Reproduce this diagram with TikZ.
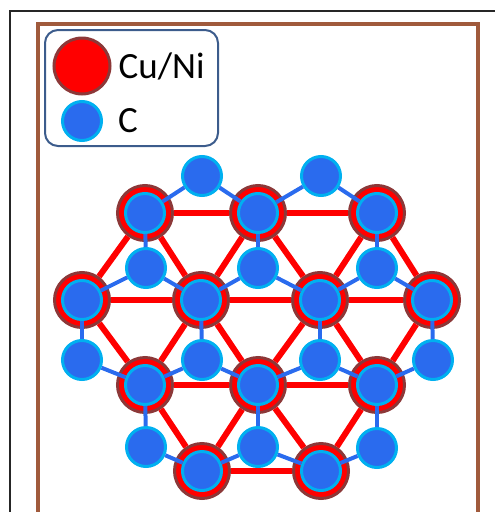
\documentclass[tikz,border=0pt]{standalone}
\usepackage{fontspec}
\setmainfont{Carlito}
\usetikzlibrary{positioning}

\definecolor{cuRed}{RGB}{255,0,0}
\definecolor{cuRim}{RGB}{140,56,56}
\definecolor{cBlue}{RGB}{42,107,238}
\definecolor{cRim}{RGB}{0,176,240}
\definecolor{frameBrown}{RGB}{160,90,60}
\definecolor{keyFrame}{RGB}{60,92,140}

\tikzstyle{metal} = [circle, fill=cuRed, draw=cuRim, line width=3pt, minimum size=55pt, inner sep=0pt]
\tikzstyle{carbon} = [circle, fill=cBlue, draw=cRim, line width=3pt, minimum size=39pt, inner sep=0pt]
\tikzstyle{metalbond} = [line width=6pt, cuRed]
\tikzstyle{carbonbond} = [line width=4pt, cBlue]
\tikzstyle{keytext} = [inner sep=0pt, font=\fontsize{37}{40}\selectfont]

\begin{document}
\begin{tikzpicture}[x=1pt, y=-1pt]
\useasboundingbox (0,0) rectangle (495,512);

% outer frames
\draw [line width=2pt, black!85] (495,11) -- (10,11) -- (10,512);
\draw [line width=4pt, frameBrown] (38,512) -- (38,24) -- (478,24) -- (478,512);

% key
\draw [line width=2pt, keyFrame, rounded corners=13pt] (45,30) rectangle (218,146);
\node (cuKey) [metal, minimum size=56pt] at (82,66) {};
\node (cKey) [carbon] at (82,121) {};
\node (cuText) [keytext, right=7pt of cuKey] {Cu/Ni};
\node (cText) [keytext, right=15pt of cKey] {C};

% Cu/Ni lattice
\node (cuA1) [metal] at (145,213) {};
\node (cuA2) [metal] at (258,213) {};
\node (cuA3) [metal] at (377,213) {};
\node (cuB1) [metal] at (82,300) {};
\node (cuB2) [metal] at (201,300) {};
\node (cuB3) [metal] at (320,300) {};
\node (cuB4) [metal] at (432,300) {};
\node (cuC1) [metal] at (145,385) {};
\node (cuC2) [metal] at (258,385) {};
\node (cuC3) [metal] at (377,385) {};
\node (cuD1) [metal] at (202,471) {};
\node (cuD2) [metal] at (321,471) {};

\draw [metalbond] (cuA1) -- (cuA2) -- (cuA3);
\draw [metalbond] (cuB1) -- (cuB2) -- (cuB3) -- (cuB4);
\draw [metalbond] (cuC1) -- (cuC2) -- (cuC3);
\draw [metalbond] (cuD1) -- (cuD2);
\draw [metalbond] (cuB1) -- (cuA1) -- (cuB2) -- (cuA2) -- (cuB3) -- (cuA3) -- (cuB4);
\draw [metalbond] (cuB1) -- (cuC1) -- (cuB2) -- (cuC2) -- (cuB3) -- (cuC3) -- (cuB4);
\draw [metalbond] (cuC1) -- (cuD1) -- (cuC2) -- (cuD2) -- (cuC3);

% graphene on top
\node (cA1) [carbon] at (cuA1) {};
\node (cA2) [carbon] at (cuA2) {};
\node (cA3) [carbon] at (cuA3) {};
\node (cB1) [carbon] at (cuB1) {};
\node (cB2) [carbon] at (cuB2) {};
\node (cB3) [carbon] at (cuB3) {};
\node (cB4) [carbon] at (cuB4) {};
\node (cC1) [carbon] at (cuC1) {};
\node (cC2) [carbon] at (cuC2) {};
\node (cC3) [carbon] at (cuC3) {};
\node (cD1) [carbon] at (cuD1) {};
\node (cD2) [carbon] at (cuD2) {};
\node (cT1) [carbon] at (202,176) {};
\node (cT2) [carbon] at (321,176) {};
\node (cAB1) [carbon] at (146,268) {};
\node (cAB2) [carbon] at (258,268) {};
\node (cAB3) [carbon] at (377,268) {};
\node (cBC1) [carbon] at (82,360) {};
\node (cBC2) [carbon] at (202,360) {};
\node (cBC3) [carbon] at (320,360) {};
\node (cBC4) [carbon] at (433,360) {};
\node (cCD1) [carbon] at (146,447) {};
\node (cCD2) [carbon] at (258,447) {};
\node (cCD3) [carbon] at (377,448) {};

\draw [carbonbond] (cA1) -- (cT1) -- (cA2) -- (cT2) -- (cA3);
\draw [carbonbond] (cA1) -- (cAB1);
\draw [carbonbond] (cA2) -- (cAB2);
\draw [carbonbond] (cA3) -- (cAB3);
\draw [carbonbond] (cB1) -- (cAB1) -- (cB2) -- (cAB2) -- (cB3) -- (cAB3) -- (cB4);
\draw [carbonbond] (cB1) -- (cBC1);
\draw [carbonbond] (cB2) -- (cBC2);
\draw [carbonbond] (cB3) -- (cBC3);
\draw [carbonbond] (cB4) -- (cBC4);
\draw [carbonbond] (cBC1) -- (cC1) -- (cBC2) -- (cC2) -- (cBC3) -- (cC3) -- (cBC4);
\draw [carbonbond] (cC1) -- (cCD1);
\draw [carbonbond] (cC2) -- (cCD2);
\draw [carbonbond] (cC3) -- (cCD3);
\draw [carbonbond] (cCD1) -- (cD1) -- (cCD2) -- (cD2) -- (cCD3);

\end{tikzpicture}
\end{document}
